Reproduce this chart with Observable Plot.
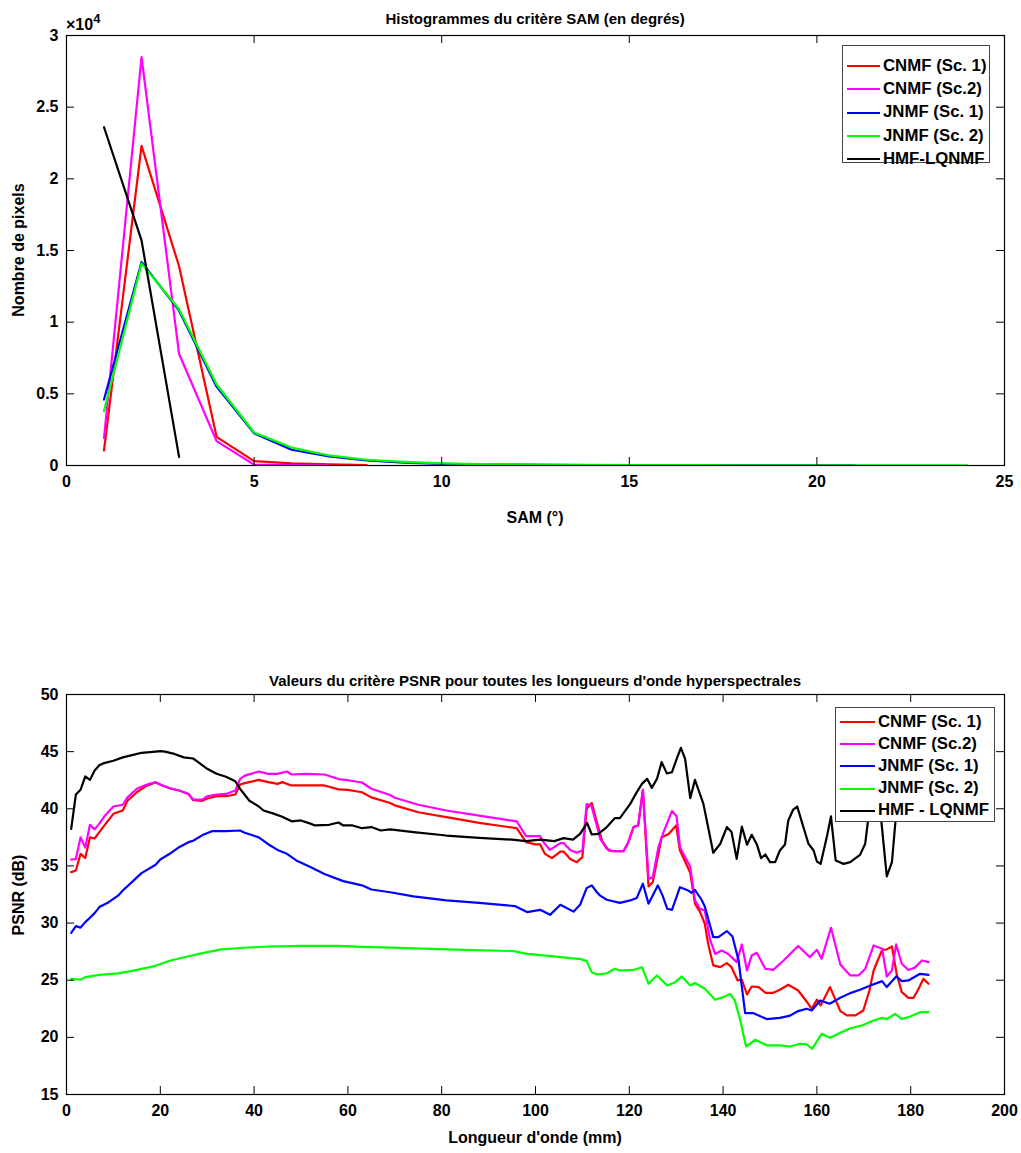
<!DOCTYPE html>
<html><head><meta charset="utf-8">
<script src="https://cdn.jsdelivr.net/npm/d3@7"></script>
<script src="https://cdn.jsdelivr.net/npm/@observablehq/plot@0.6"></script>
<style>
body{margin:0;background:#fff;font-family:"Liberation Sans",Arial,Helvetica,sans-serif;font-weight:bold;color:#000}
#wrap{position:relative;width:1021px;height:1153px;overflow:hidden;background:#fff}
.abs{position:absolute;white-space:nowrap;line-height:1}
.ctr{transform:translate(-50%,-50%)}
.rot{transform:translate(-50%,-50%) rotate(-90deg)}
.legend{position:absolute;background:#fff;border:1px solid #444;box-sizing:border-box}
.row{position:absolute;left:0;display:flex;align-items:center;font-size:16.8px;line-height:1}
.sw{display:inline-block;height:0;border-top:2px solid}
</style></head>
<body><div id="wrap"></div>
<script>
// ---------- DATA : SAM histogram (top) ----------
const samTitle = "Histogrammes du critère SAM (en degrés)";
const samXLabel = "SAM (°)";
const samYLabel = "Nombre de pixels";
const samXTicks = [0, 5, 10, 15, 20, 25];
const samYTicks = [0, 5000, 10000, 15000, 20000, 25000, 30000];
const samNames = ["CNMF (Sc. 1)", "CNMF (Sc.2)", "JNMF (Sc. 1)", "JNMF (Sc. 2)", "HMF-LQNMF"];
const seriesColors = ["#ff0000", "#ff00ff", "#0000ff", "#00ff00", "#000000"];

const samCnmf1X = [1, 2, 3, 4, 5, 6, 7, 8];
const samCnmf1Y = [1050, 22300, 13900, 2000, 300, 150, 80, 20];
const samCnmf2X = [1, 2, 3, 4, 5, 6, 7];
const samCnmf2Y = [1900, 28500, 7800, 1700, 60, 20, 10];
const samJnmf1X = [1, 2, 3, 4, 5, 6, 7, 8, 9, 10, 11, 12, 13, 14, 15, 16, 17, 18, 19, 20, 21];
const samJnmf1Y = [4600, 14200, 10800, 5500, 2250, 1100, 630, 350, 200, 120, 80, 60, 45, 35, 30, 25, 20, 15, 10, 8, 5];
const samJnmf2X = [1, 2, 3, 4, 5, 6, 7, 8, 9, 10, 11, 12, 13, 14, 15, 16, 17, 18, 19, 20, 21, 22, 23, 24];
const samJnmf2Y = [3800, 14100, 10900, 5650, 2300, 1250, 700, 400, 250, 150, 100, 70, 50, 40, 30, 25, 20, 15, 12, 10, 8, 6, 5, 5];
const samHmfX = [1, 2, 3];
const samHmfY = [23600, 15700, 600];

// ---------- DATA : PSNR per wavelength (bottom) ----------
const psnrTitle = "Valeurs du critère PSNR pour toutes les longueurs d'onde hyperspectrales";
const psnrXLabel = "Longueur d'onde (mm)";
const psnrYLabel = "PSNR (dB)";
const psnrXTicks = [0, 20, 40, 60, 80, 100, 120, 140, 160, 180, 200];
const psnrYTicks = [15, 20, 25, 30, 35, 40, 45, 50];
const psnrNames = ["CNMF (Sc. 1)", "CNMF (Sc.2)", "JNMF (Sc. 1)", "JNMF (Sc. 2)", "HMF - LQNMF"];

const psnrCnmf1X = [1,2,3,4,5,6,7,8,10,12,13,15,17,19,20,22,24,26,27,29,30,32,34,36,37,38,41,43,45,46,48,51,55,58,60,63,65,69,
  70,75,81,88,96,98,100,101,102,103.5,105.3,106,107.4,108.8,110,110.9,112,113.1,114.2,115.6,116.6,118.8,119.8,120.9,121.9,122.9,124.1,125,126.9,128.4,130,130.8,132.3,133,134,135.1,136.1,136.8,137.9,139.4,140.8,141.8,143.1,144,145.1,146.1,147.6,149,150.7,152.1,153.9,156,157.8,158.9,160,160.8,161.9,162.8,165,166.4,168.2,169.9,171.2,172.1,173.9,174.9,176,177,178.1,179.5,180.6,181.7,182.7,183.8];
const psnrCnmf1Y = [34.46,34.6,36.06,35.7,37.5,37.4,37.96,38.5,39.56,39.85,40.7,41.45,42.0,42.3,42.13,41.8,41.6,41.3,40.75,40.7,40.9,41.1,41.1,41.25,42.13,42.24,42.53,42.33,42.18,42.33,42.04,42.04,42.04,41.7,41.66,41.45,41.0,40.5,
  40.3,39.7,39.27,38.77,38.3,37.08,36.88,36.88,36.06,35.68,36.26,36.26,35.6,35.33,35.77,40.0,40.5,38.8,37.2,36.35,36.3,36.3,37.08,38.4,38.54,41.66,33.2,33.58,37.5,37.8,38.54,36.35,35.04,34.37,31.7,30.96,29.94,28.19,26.3,26.14,26.5,26.14,24.98,25.04,23.75,24.45,24.4,23.9,23.9,24.16,24.6,24.1,23.14,22.5,23.3,22.8,23.66,24.4,22.3,21.92,21.92,22.35,24.1,25.85,27.66,27.7,27.95,25.56,23.96,23.46,23.46,24.25,25.12,24.69];

const psnrCnmf2X = [1,2,3,4,5,6,7,8,10,12,13,15,17,19,20,22,24,26,27,29,30,32,34,36,37,38,41,43,45,47,48,51,55,58,60,63,65,69,
  70,75,81,88,96,98,101,101.7,103.1,105.3,106,107.4,108.8,110,110.9,111.9,113.1,113.8,115.2,116.3,118.8,119.8,120.9,121.9,122.9,124.1,125,126.2,127.3,129.1,130.1,130.8,132.3,133,134,135.1,136.1,137.2,138.3,139.7,141.1,142.9,144,145.1,146.1,147.2,149,150.7,152.9,156,158.5,160,161,163,165,167.1,168.9,170.3,172.1,173.9,174.9,176,176.9,178.1,179.5,180.9,182.4,183.8];
const psnrCnmf2Y = [35.56,35.6,37.5,36.6,38.6,38.2,38.7,39.3,40.2,40.35,41.0,41.75,42.1,42.33,42.1,41.8,41.6,41.3,40.8,40.8,41.1,41.25,41.3,41.6,42.6,42.9,43.26,43.06,43.06,43.26,43.0,43.06,43.0,42.6,42.5,42.3,41.75,41.2,
  40.96,40.35,39.85,39.4,38.9,37.6,37.6,37.08,36.4,37.0,37.0,36.4,36.15,36.35,40.4,40.3,38.5,37.37,36.5,36.3,36.3,37.08,38.4,38.54,41.66,33.87,34.0,36.64,37.96,39.8,39.33,36.64,35.48,34.9,31.98,31.25,31.1,28.6,27.3,27.6,27.3,26.58,28.13,25.85,27.17,27.4,26.0,25.9,26.73,28.0,27.02,27.66,26.87,29.59,26.38,25.42,25.42,26.0,28.04,27.75,25.33,25.85,28.13,26.44,25.9,26.1,26.73,26.58];

const psnrJnmf1X = [1,2,3,4,5,6,7,9,11,12,14,16,19,20,22,24,26,27,29,31,34,37,38,41,43,45,47,49,52,55,59,63,65,69,
  74,81,88,95.7,98.2,101,103.1,105.3,108.1,109.5,110.9,112,113.1,113.8,115.2,118,120.2,121.6,122.9,124.1,126.1,127.1,128.1,129.1,130.8,132.3,133.3,134,135.4,136.1,137.9,139,140.8,142,143.3,144.7,146.5,149.3,152.1,154.3,156,157.8,158.9,160.7,162.7,165,167.1,169.2,171.4,173.9,174.9,176.9,178.1,179.5,182,183.8];
const psnrJnmf1Y = [29.15,29.73,29.6,30.08,30.46,30.87,31.4,31.83,32.4,32.85,33.6,34.37,35.1,35.56,36.06,36.64,37.08,37.2,37.7,38.04,38.04,38.1,37.9,37.5,36.9,36.4,36.06,35.48,34.9,34.3,33.67,33.3,32.94,32.7,
  32.33,31.98,31.77,31.48,30.96,31.16,30.72,31.6,31.0,31.6,33.06,33.3,32.7,32.4,32.04,31.77,31.98,32.2,33.44,31.7,33.3,32.4,31.25,31.16,33.14,32.9,32.65,32.9,32.04,31.45,28.77,28.77,29.3,28.83,26.73,22.12,22.12,21.6,21.7,21.9,22.3,22.5,22.35,23.23,22.94,23.46,23.87,24.16,24.54,24.92,24.4,25.33,24.92,24.98,25.56,25.47];

const psnrJnmf2X = [1,3,4,7,11,15,19,22,26,29,33,38,43,50,58,63,69,
  81,95.3,98.2,101,103.8,107.4,109.5,110.9,112,113.1,115.2,116.9,118,120.9,122.7,124.1,125.9,128.1,129.8,131.2,133,134,136.1,138.3,140.1,141.5,142.5,143.6,144.9,146.9,149.3,152.1,154.3,156.4,157.8,159,161,162.8,164.6,167.1,169.6,172.1,173.9,174.9,176.7,178.1,179.9,182,183.8];
const psnrJnmf2Y = [25.12,25.04,25.27,25.47,25.6,25.9,26.26,26.7,27.1,27.37,27.7,27.84,27.95,28.0,28.0,27.92,27.86,
  27.7,27.55,27.3,27.2,27.08,26.93,26.87,26.67,25.7,25.5,25.6,26.0,25.85,25.9,26.14,24.69,25.42,24.54,24.83,25.33,24.54,24.75,24.25,23.29,23.52,23.8,23.23,21.6,19.2,19.79,19.3,19.3,19.2,19.44,19.38,19.0,20.31,19.96,20.31,20.8,21.04,21.48,21.7,21.6,22.06,21.6,21.83,22.2,22.2];

const psnrHmfX = [1,2,3,4,5,6,7,8,10,12,14,16,19,20,21,23,25,27,28,30,32,34,36,37,39,41,42,44,46,48,50,52,53,56,58,59,61,63,65,67,69,
  74,81,88,95,98,101,104,106,108,109.5,111,112,113.4,115.2,116.9,118,120.2,121.6,122.7,123.8,124.8,125.9,126.9,128,129.1,130.1,131,131.9,133,134,135.8,136.8,137.9,139.4,140.8,141.8,142.9,144,145.1,146.1,147.2,148.1,149,150,151.1,152.1,153.2,153.9,154.9,155.8,156.8,158.2,159.3,160,160.8,162.1,163,164,165.7,167.1,169.2,170.3,171.5,173,174.9,176,177.3,179,181,183,184];
const psnrHmfY = [38.25,41.25,41.66,42.83,42.53,43.35,43.8,44.0,44.2,44.5,44.7,44.9,45.0,45.04,45.0,44.8,44.5,44.4,44.1,43.5,43.06,42.8,42.4,41.75,40.7,40.2,39.85,39.6,39.3,38.9,38.98,38.7,38.54,38.6,38.8,38.54,38.54,38.3,38.4,38.1,38.2,
  37.96,37.66,37.46,37.3,37.17,37.3,37.17,37.43,37.3,37.8,38.77,37.75,37.8,38.4,39.18,39.18,40.43,41.46,42.18,42.62,41.83,42.62,44.08,43.1,43.2,44.37,45.33,44.37,40.93,42.53,40.43,38.4,36.15,36.94,38.4,37.96,35.62,38.45,36.85,37.72,36.88,35.68,36.0,35.33,35.33,36.35,36.88,38.98,39.9,40.2,38.83,36.94,36.35,35.39,35.18,37.5,39.33,35.48,35.18,35.33,35.97,36.94,41.0,42.0,34.08,35.33,41.5,40.5,41.5,40.5,41.0];

// ---------- helpers ----------
const FONT = "Liberation Sans, Arial, Helvetica, sans-serif";
const W = 1021, ML = 66, MR = 17;
const wrap = document.getElementById("wrap");
const toRows = (xs, ys) => xs.map((x, i) => ({x, y: ys[i]}));

function chart({xDomain, yDomain, xTicks, yTicks, yFormat, series, height, marginTop, marginBottom}) {
  const innerW = W - ML - MR, innerH = height - marginTop - marginBottom, tl = 8;
  return Plot.plot({
    width: W, height, marginLeft: ML, marginRight: MR, marginTop, marginBottom,
    style: {fontFamily: FONT, fontSize: "16px", fontWeight: "bold", background: "transparent", color: "#000", overflow: "visible"},
    x: {domain: xDomain}, y: {domain: yDomain},
    marks: [
      ...series.map(s => Plot.line(toRows(s.x, s.y), {x: "x", y: "y", stroke: s.color, strokeWidth: 2.2, clip: true})),
      Plot.frame({stroke: "#000", strokeWidth: 1.2}),
      Plot.tickX(xTicks, {x: d => d, insetTop: innerH - tl, stroke: "#000"}),
      Plot.tickX(xTicks, {x: d => d, insetBottom: innerH - tl, stroke: "#000"}),
      Plot.tickY(yTicks, {y: d => d, insetRight: innerW - tl, stroke: "#000"}),
      Plot.tickY(yTicks, {y: d => d, insetLeft: innerW - tl, stroke: "#000"}),
      Plot.axisX({ticks: xTicks, tickSize: 0, tickPadding: 10, label: null, tickFormat: d => String(d)}),
      Plot.axisY({ticks: yTicks, tickSize: 0, tickPadding: 8, label: null, tickFormat: yFormat})
    ]
  });
}

function place(el, top) { el.style.position = "absolute"; el.style.left = "0px"; el.style.top = top + "px"; wrap.appendChild(el); }
function text(str, x, y, size, cls) {
  const d = document.createElement("div");
  d.className = "abs " + cls; d.textContent = str;
  d.style.left = x + "px"; d.style.top = y + "px"; d.style.fontSize = size + "px";
  wrap.appendChild(d); return d;
}
function legend(names, colors, left, top, w, h, firstRow, step, lineW) {
  const box = document.createElement("div");
  box.className = "legend";
  Object.assign(box.style, {left: left + "px", top: top + "px", width: w + "px", height: h + "px"});
  names.forEach((n, i) => {
    const r = document.createElement("div"); r.className = "row";
    r.style.top = (firstRow + i * step - 8) + "px"; r.style.height = "16px"; r.style.left = "4px";
    const sw = document.createElement("span"); sw.className = "sw";
    sw.style.width = lineW + "px"; sw.style.borderTopColor = colors[i]; sw.style.marginRight = "3px";
    const t = document.createElement("span"); t.textContent = n;
    r.appendChild(sw); r.appendChild(t); box.appendChild(r);
  });
  wrap.appendChild(box);
}

// ---------- top chart ----------
const topSeries = [
  {x: samCnmf1X, y: samCnmf1Y}, {x: samCnmf2X, y: samCnmf2Y}, {x: samJnmf1X, y: samJnmf1Y},
  {x: samJnmf2X, y: samJnmf2Y}, {x: samHmfX, y: samHmfY}
].map((s, i) => ({...s, color: seriesColors[i]}));
place(chart({xDomain: [0, 25], yDomain: [0, 30000], xTicks: samXTicks, yTicks: samYTicks,
  yFormat: d => String(d / 10000), series: topSeries, height: 500, marginTop: 35, marginBottom: 35}), 0);

// ---------- bottom chart ----------
const botSeries = [
  {x: psnrCnmf1X, y: psnrCnmf1Y}, {x: psnrCnmf2X, y: psnrCnmf2Y}, {x: psnrJnmf1X, y: psnrJnmf1Y},
  {x: psnrJnmf2X, y: psnrJnmf2Y}, {x: psnrHmfX, y: psnrHmfY}
].map((s, i) => ({...s, color: seriesColors[i]}));
place(chart({xDomain: [0, 200], yDomain: [15, 50], xTicks: psnrXTicks, yTicks: psnrYTicks,
  yFormat: d => String(d), series: botSeries, height: 580, marginTop: 134, marginBottom: 46}), 560);

// ---------- texts ----------
text(samTitle, 535, 18, 15, "ctr");
text(samXLabel, 535, 518, 16, "ctr");
text(samYLabel, 19, 250, 16, "rot");
const e = text("×10", 66, 12, 16, "");
const sup = document.createElement("sup"); sup.textContent = "4"; sup.style.fontSize = "13px"; sup.style.verticalAlign = "7px"; e.appendChild(sup);

text(psnrTitle, 535, 680, 15, "ctr");
text(psnrXLabel, 535, 1138, 16, "ctr");
text(psnrYLabel, 19, 895, 16, "rot");

legend(samNames, seriesColors, 842, 45, 148, 118, 20, 23.3, 33);
legend(psnrNames, seriesColors, 835, 707, 160, 115, 14, 22.2, 35);
</script>
</body></html>
